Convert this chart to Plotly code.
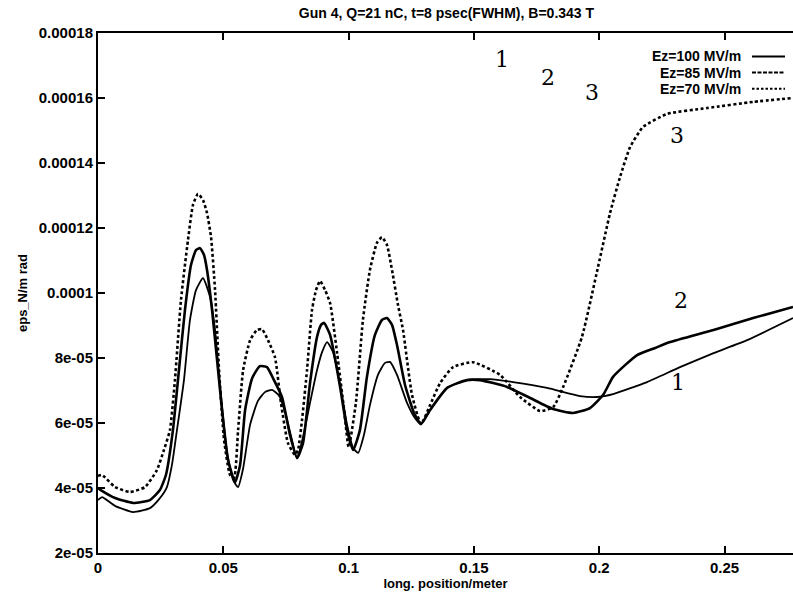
import plotly.graph_objects as go

# ---- data (x in metres, emittance in units of 1e-5 m rad) ----
x_100 = [0, 0.0016, 0.0068, 0.0140, 0.0207, 0.0247, 0.0275, 0.0295, 0.0315, 0.0343, 0.0367, 0.0391,
         0.0419, 0.0447, 0.0467, 0.0487, 0.0515, 0.0539, 0.0559, 0.0579, 0.0607, 0.0638, 0.0666, 0.0694,
         0.0722, 0.0746, 0.0770, 0.0794, 0.0818, 0.0846, 0.0874, 0.0894, 0.0914, 0.0938, 0.0966, 0.0994,
         0.1018, 0.1038, 0.1061, 0.1085, 0.1117, 0.1145, 0.1165, 0.1193, 0.1233, 0.1265, 0.1289, 0.1325,
         0.1393, 0.1472, 0.1564, 0.1656, 0.1792, 0.1923, 0.1991, 0.2055, 0.2191, 0.2322, 0.2456, 0.2590, 0.2773]
y_100 = [3.63, 3.72, 3.45, 3.26, 3.38, 3.69, 4.03, 4.71, 5.78, 7.32, 9.17, 10.09,
         10.46, 9.88, 8.86, 7.11, 5.08, 4.25, 4.03, 4.60, 5.95, 6.68, 6.95, 7.02,
         6.85, 6.35, 5.60, 4.92, 5.57, 6.62, 7.63, 8.18, 8.49, 8.18, 7.17, 5.94,
         5.23, 5.08, 5.63, 6.55, 7.48, 7.85, 7.88, 7.48, 6.62, 6.15, 5.97, 6.40,
         7.08, 7.32, 7.35, 7.26, 7.08, 6.83, 6.80, 6.89, 7.26, 7.72, 8.15, 8.55, 9.23]

x_85 = [0, 0.0016, 0.0068, 0.0140, 0.0207, 0.0247, 0.0271, 0.0299, 0.0323, 0.0347, 0.0371, 0.0391,
        0.0407, 0.0423, 0.0435, 0.0455, 0.0475, 0.0495, 0.0519, 0.0547, 0.0567, 0.0587, 0.0615, 0.0646,
        0.0674, 0.0702, 0.0734, 0.0766, 0.0794, 0.0818, 0.0846, 0.0874, 0.0890, 0.0902, 0.0926, 0.0966,
        0.0994, 0.1018, 0.1045, 0.1073, 0.1105, 0.1133, 0.1153, 0.1173, 0.1193, 0.1225, 0.1261, 0.1289,
        0.1325, 0.1393, 0.1472, 0.1524, 0.1632, 0.1724, 0.1816, 0.1895, 0.1963, 0.2015, 0.2055, 0.2103,
        0.2151, 0.2223, 0.2283, 0.2456, 0.2614, 0.2773]
y_85 = [4.00, 3.91, 3.69, 3.54, 3.63, 3.94, 4.40, 5.78, 7.63, 9.48, 10.86, 11.32,
        11.38, 11.17, 10.71, 9.48, 7.94, 6.40, 4.86, 4.18, 4.71, 6.40, 7.38, 7.75,
        7.72, 7.32, 6.80, 5.63, 4.92, 5.38, 7.23, 8.65, 9.02, 9.08, 8.71, 7.11,
        5.78, 5.17, 5.78, 7.42, 8.71, 9.17, 9.23, 9.02, 8.40, 7.17, 6.31, 5.97,
        6.40, 7.08, 7.32, 7.32, 7.11, 6.77, 6.43, 6.31, 6.46, 6.86, 7.42, 7.78,
        8.09, 8.31, 8.49, 8.86, 9.23, 9.57]

x_70 = [0, 0.0016, 0.0068, 0.0128, 0.0188, 0.0235, 0.0263, 0.0287, 0.0307, 0.0331, 0.0359, 0.0379,
        0.0399, 0.0419, 0.0435, 0.0451, 0.0467, 0.0483, 0.0503, 0.0527, 0.0543, 0.0559, 0.0579, 0.0607,
        0.0634, 0.0654, 0.0678, 0.0706, 0.0730, 0.0758, 0.0786, 0.0798, 0.0814, 0.0834, 0.0854, 0.0870,
        0.0886, 0.0906, 0.0926, 0.0954, 0.0982, 0.1000, 0.1029, 0.1057, 0.1085, 0.1113, 0.1133, 0.1153,
        0.1173, 0.1197, 0.1217, 0.1253, 0.1289, 0.1325, 0.1365, 0.1417, 0.1496, 0.1604, 0.1684, 0.1764,
        0.1816, 0.1856, 0.1931, 0.1995, 0.2043, 0.2083, 0.2123, 0.2175, 0.2271, 0.2430, 0.2614, 0.2773]
y_70 = [4.37, 4.40, 4.03, 3.88, 4.03, 4.55, 5.17, 5.78, 7.32, 9.78, 11.63, 12.71,
        13.05, 12.86, 12.46, 11.72, 10.09, 7.63, 5.48, 4.40, 4.31, 5.78, 7.63, 8.55,
        8.86, 8.89, 8.55, 8.03, 6.62, 5.38, 5.02, 5.17, 6.09, 7.63, 9.48, 10.09,
        10.37, 10.09, 9.69, 8.15, 6.40, 5.26, 6.62, 9.17, 10.71, 11.54, 11.72, 11.48,
        10.71, 9.63, 8.86, 6.86, 5.97, 6.55, 7.23, 7.72, 7.87, 7.48, 6.80, 6.37,
        6.49, 7.11, 8.65, 10.80, 12.46, 13.57, 14.49, 15.11, 15.51, 15.69, 15.88, 16.00]

scale = 1e-5
series_names = ["Ez=100 MV/m", "Ez=85 MV/m", "Ez=70 MV/m"]

x_ticks = [0, 0.05, 0.1, 0.15, 0.2, 0.25]
x_ticktext = ["0", "0.05", "0.1", "0.15", "0.2", "0.25"]
y_ticks = [2e-5, 4e-5, 6e-5, 8e-5, 1e-4, 1.2e-4, 1.4e-4, 1.6e-4, 1.8e-4]
y_ticktext = ["2e-05", "4e-05", "6e-05", "8e-05", "0.0001", "0.00012", "0.00014", "0.00016", "0.00018"]

# handwritten curve markers (labels, positions in data units)
marks_text = ["1", "2", "3", "3", "2", "1"]
marks_x = [0.1611, 0.1796, 0.1971, 0.2309, 0.2326, 0.2314]
marks_y = [17.17, 16.62, 16.18, 14.86, 9.78, 7.26]

FONT = "Liberation Sans, Arial, sans-serif"

fig = go.Figure()
styles = [
    dict(color="black", width=1.8, dash="solid"),
    dict(color="black", width=2.6, dash="solid"),
    dict(color="black", width=2.6, dash="3px,2.5px"),
]
for xs, ys, name, st in zip([x_100, x_85, x_70], [y_100, y_85, y_70], series_names, styles):
    fig.add_trace(go.Scatter(
        x=xs, y=[v * scale for v in ys], mode="lines", name=name,
        line=dict(shape="spline", smoothing=0.5, **st), showlegend=False))

# legend drawn as text + sample lines (text to the left of the sample)
leg_dash = ["solid", "4px,1.5px", "2.5px,2px"]
leg_y = [0.955, 0.924, 0.893]
for name, dsh, ly in zip(series_names, leg_dash, leg_y):
    fig.add_annotation(x=0.928, y=ly, xref="paper", yref="paper", text=name, showarrow=False,
                       xanchor="right", yanchor="middle",
                       font=dict(family=FONT, size=14, color="black", weight="bold"))
    fig.add_shape(type="line", xref="paper", yref="paper", x0=0.941, x1=0.9885, y0=ly, y1=ly,
                  line=dict(color="black", width=2, dash=dsh))

for t, mx, my in zip(marks_text, marks_x, marks_y):
    fig.add_annotation(x=mx, y=my * scale, text=t, showarrow=False,
                       font=dict(family="DejaVu Serif, serif", size=22, color="black"))

axis_font = dict(family=FONT, size=15, color="black", weight="bold")
fig.update_layout(
    width=793, height=602,
    margin=dict(l=98, r=0, t=33, b=49),
    paper_bgcolor="white", plot_bgcolor="white",
    title=dict(text="Gun 4, Q=21 nC, t=8 psec(FWHM), B=0.343 T", x=0.563, xanchor="center",
               y=0.978, yanchor="middle",
               font=dict(family=FONT, size=14, color="black", weight="bold")),
    xaxis=dict(range=[0, 0.2773], tickvals=x_ticks, ticktext=x_ticktext, showgrid=False, zeroline=False,
               showline=True, linecolor="black", linewidth=2, mirror="ticks",
               ticks="inside", ticklen=7, tickwidth=2, tickcolor="black",
               tickfont=axis_font,
               title=dict(text="long. position/meter", standoff=2,
                          font=dict(family=FONT, size=13, color="black", weight="bold"))),
    yaxis=dict(range=[2e-5, 1.8e-4], tickvals=y_ticks, ticktext=y_ticktext, showgrid=False, zeroline=False,
               showline=True, linecolor="black", linewidth=2,
               ticks="inside", ticklen=7, tickwidth=2, tickcolor="black",
               tickfont=axis_font,
               title=dict(text="eps_N/m rad", standoff=8,
                          font=dict(family=FONT, size=13, color="black", weight="bold"))),
)

fig.write_html("out.html")
